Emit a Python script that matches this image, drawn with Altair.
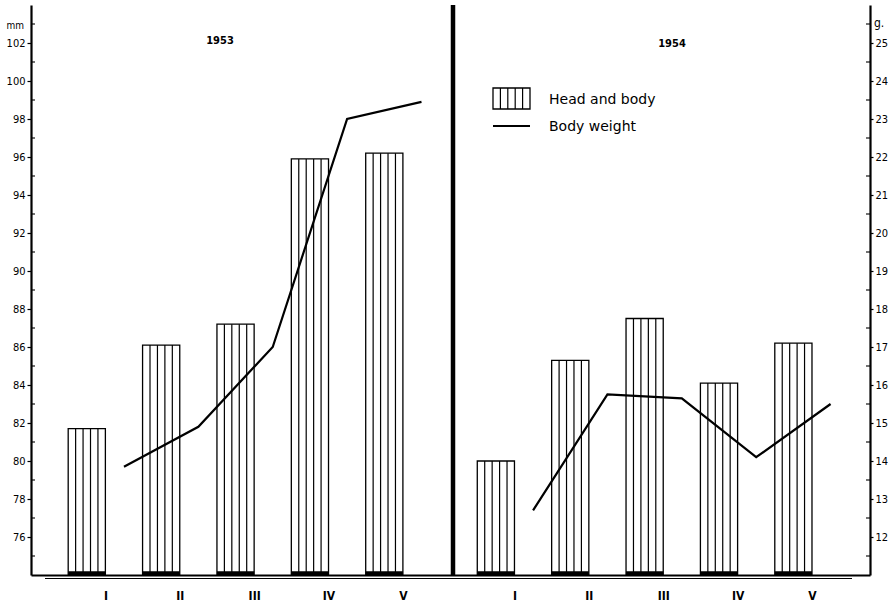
import altair as alt
import pandas as pd

# Monthly means (I-V) for two seasons
months = ["I", "II", "III", "IV", "V"]
years = ["1953", "1954"]
head_body_1953 = [81.7, 86.1, 87.2, 95.9, 96.2]    # mm
head_body_1954 = [80.0, 85.3, 87.5, 84.1, 86.2]    # mm
weight_1953 = [13.85, 14.9, 17.0, 23.0, 23.45]     # g
weight_1954 = [12.7, 15.75, 15.65, 14.1, 15.5]     # g

mm_labels = list(range(76, 104, 2))
mm_minor = list(range(75, 104, 2))
g_labels = list(range(12, 26))
g_minor = [v + 0.5 for v in range(11, 26)]

# plot geometry
W, H = 839, 570
MM_DOMAIN = [74, 104]
G_DOMAIN = [11, 26]
X_DOMAIN = [0, 11.28]
YEAR_SHIFT = {"1953": 0.0, "1954": 5.5}
BAR_W = 0.5
N_STRIPES = 5

FONT_NARROW = "Liberation Sans Narrow, DejaVu Sans Condensed, Arial Narrow, sans-serif"
FONT_TEXT = "DejaVu Sans, Verdana, sans-serif"

rows = []
for year, hb, wt in [("1953", head_body_1953, weight_1953),
                     ("1954", head_body_1954, weight_1954)]:
    for i, (m, h, w) in enumerate(zip(months, hb, wt)):
        pos = i + 1 + YEAR_SHIFT[year]
        rows.append(dict(year=year, month=m, pos=pos, hb=h, wt=w,
                         x0=pos - BAR_W, x1=pos, xl=pos + BAR_W / 2,
                         base=MM_DOMAIN[0]))
df = pd.DataFrame(rows)

# interior vertical hatch lines of every bar
hatch = pd.DataFrame([
    dict(hx=r["x0"] + k * BAR_W / N_STRIPES, hb=r["hb"], base=r["base"])
    for r in rows for k in range(1, N_STRIPES)
])

positions = df["pos"].tolist()

x_scale = alt.Scale(domain=X_DOMAIN, nice=False, zero=False)
x_axis = alt.Axis(
    values=positions,
    labelExpr="['','I','II','III','IV','V'][datum.value < 6 ? datum.value : datum.value - 5.5]",
    title=None, ticks=False, grid=False,
    domainColor="black", domainWidth=1.8,
    labelFont=FONT_NARROW, labelFontSize=12, labelFontWeight="bold",
    labelColor="black", labelPadding=15,
)
mm_scale = alt.Scale(domain=MM_DOMAIN, nice=False, zero=False)
mm_axis = alt.Axis(
    orient="left", values=mm_labels, title=None, grid=False,
    tickSize=4, tickWidth=1.2, tickColor="black",
    domainColor="black", domainWidth=2.2,
    labelFont=FONT_NARROW, labelFontSize=11, labelColor="black", labelPadding=2,
)
g_scale = alt.Scale(domain=G_DOMAIN, nice=False, zero=False)
g_axis = alt.Axis(
    orient="right", values=g_labels, title=None, grid=False,
    tickSize=3, tickWidth=1.2, tickColor="black",
    domainColor="black", domainWidth=2.2,
    labelFont=FONT_NARROW, labelFontSize=11, labelColor="black", labelPadding=2,
)

# --- head and body length (mm, left axis) ---
bars = alt.Chart(df).mark_rect(fill="white", stroke="black", strokeWidth=1.3).encode(
    x=alt.X("x0:Q", scale=x_scale, axis=x_axis),
    x2="x1:Q",
    y=alt.Y("base:Q", scale=mm_scale, axis=mm_axis),
    y2="hb:Q",
)
stripes = alt.Chart(hatch).mark_rule(color="black", strokeWidth=1.2).encode(
    x=alt.X("hx:Q", scale=x_scale, axis=x_axis),
    y=alt.Y("base:Q", scale=mm_scale, axis=mm_axis),
    y2="hb:Q",
)
foot = alt.Chart(df).mark_rect(fill="black").encode(
    x=alt.X("x0:Q", scale=x_scale, axis=x_axis),
    x2="x1:Q",
    y=alt.Y("base:Q", scale=mm_scale, axis=mm_axis),
    y2=alt.Y2(datum=MM_DOMAIN[0] + 0.2),
)
mm_minor_ticks = alt.Chart(pd.DataFrame({"v": mm_minor})).mark_rule(
    color="black", strokeWidth=1.1
).encode(
    y=alt.Y("v:Q", scale=mm_scale, axis=mm_axis),
    x=alt.value(0), x2=alt.value(4),
)
mm_layer = alt.layer(bars, stripes, foot, mm_minor_ticks)

# --- body weight (g, right axis) ---
weight = alt.Chart(df).mark_line(color="black", strokeWidth=2.2).encode(
    x=alt.X("xl:Q", scale=x_scale, axis=x_axis),
    y=alt.Y("wt:Q", scale=g_scale, axis=g_axis),
    detail="year:N",
)
g_minor_ticks = alt.Chart(pd.DataFrame({"v": g_minor})).mark_rule(
    color="black", strokeWidth=1.1
).encode(
    y=alt.Y("v:Q", scale=g_scale, axis=g_axis),
    x=alt.value(W - 4), x2=alt.value(W),
)
g_layer = alt.layer(weight, g_minor_ticks)

# --- frame pieces and annotations ---
divider = alt.Chart(pd.DataFrame({"d": [0]})).mark_rule(
    color="black", strokeWidth=4.5
).encode(x=alt.value(422), y=alt.value(0), y2=alt.value(H))

underline = alt.Chart(pd.DataFrame({"d": [0]})).mark_rule(
    color="black", strokeWidth=1
).encode(x=alt.value(14), x2=alt.value(W - 18), y=alt.value(H + 3.5))

year_titles = alt.Chart(pd.DataFrame({
    "t": years, "px": [189, 641], "py": [36, 39]
})).mark_text(font=FONT_NARROW, fontSize=11, fontWeight="bold", color="black").encode(
    text="t:N", x=alt.X("px:Q", scale=None), y=alt.Y("py:Q", scale=None)
)

unit_mm = alt.Chart(pd.DataFrame({"t": ["mm"]})).mark_text(
    font=FONT_NARROW, fontSize=10, color="black", align="right"
).encode(text="t:N", x=alt.value(-7), y=alt.value(21))
unit_g = alt.Chart(pd.DataFrame({"t": ["g."]})).mark_text(
    font=FONT_NARROW, fontSize=12, color="black", align="left"
).encode(text="t:N", x=alt.value(W + 4), y=alt.value(18))

# legend: hatched box + line
LX0, LX1, LY0, LY1 = 462, 499, 83, 104
legend_box = alt.Chart(pd.DataFrame({"d": [0]})).mark_rect(
    fill="white", stroke="black", strokeWidth=1.3
).encode(x=alt.value(LX0), x2=alt.value(LX1), y=alt.value(LY0), y2=alt.value(LY1))
legend_stripes = [
    alt.Chart(pd.DataFrame({"d": [0]})).mark_rule(color="black", strokeWidth=1.2).encode(
        x=alt.value(LX0 + k * (LX1 - LX0) / N_STRIPES), y=alt.value(LY0), y2=alt.value(LY1)
    )
    for k in range(1, N_STRIPES)
]
legend_line = alt.Chart(pd.DataFrame({"d": [0]})).mark_rule(
    color="black", strokeWidth=1.8
).encode(x=alt.value(LX0), x2=alt.value(LX1), y=alt.value(121))
legend_text = alt.Chart(pd.DataFrame({
    "t": ["Head and body", "Body weight"], "py": [95, 122]
})).mark_text(font=FONT_TEXT, fontSize=14, color="black", align="left", baseline="middle").encode(
    text="t:N", x=alt.value(518), y=alt.Y("py:Q", scale=None)
)

chart = alt.layer(
    mm_layer, g_layer, divider, underline, year_titles, unit_mm, unit_g,
    legend_box, *legend_stripes, legend_line, legend_text,
).resolve_scale(y="independent").properties(
    width=W, height=H,
    autosize=alt.AutoSizeParams(type="none"),
    padding={"left": 31, "top": 5, "right": 24, "bottom": 33},
    background="white",
).configure_view(stroke=None)

chart.save("out.html", embed_options={"renderer": "svg", "actions": False})
